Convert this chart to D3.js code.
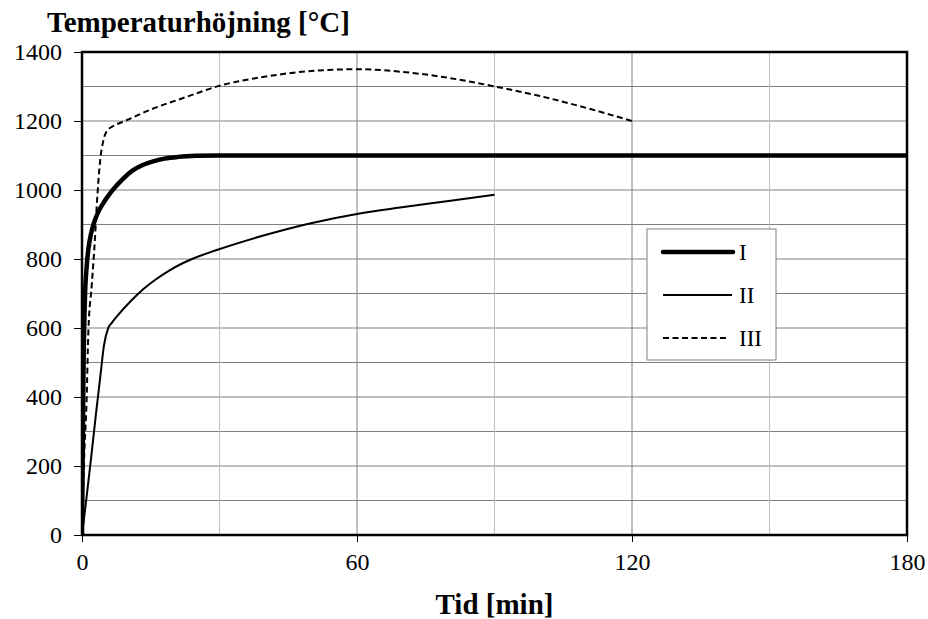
<!DOCTYPE html>
<html>
<head>
<meta charset="utf-8">
<script src="https://cdnjs.cloudflare.com/ajax/libs/d3/7.8.5/d3.min.js"></script>
<style>
  body { margin: 0; background: #fff; }
  text { font-family: "Liberation Serif", "Times New Roman", serif; }
</style>
</head>
<body>
<div id="main"></div>
<script>
// curve I (thick)
var timeI  = [0, 0.3, 0.65, 1, 1.4, 2, 2.5, 3.5, 4.65, 6, 7.5, 9, 11, 13, 15.5, 18, 21, 25, 30, 40, 60, 90, 120, 150, 180];
var tempI  = [0, 450, 690, 775, 830, 875, 900, 935, 962, 988, 1012, 1033, 1056, 1071, 1083, 1091, 1096, 1099, 1100, 1100, 1100, 1100, 1100, 1100, 1100];

// curve II (thin)
var timeII = [0, 1, 2, 3, 4, 4.8, 5.7, 6.5, 7.9, 10.5, 13.4, 16, 19.2, 24, 29.4, 38.8, 49.7, 60.6, 69.4, 80, 90];
var tempII = [0, 110, 225, 345, 460, 550, 599, 615, 638, 676, 713, 740, 768, 800, 826, 865, 903, 932, 949, 968, 986];

// curve III (dashed)
var timeIII = [0, 0.4, 1, 1.4, 2.1, 2.85, 3.2, 3.6, 4, 4.6, 5.4, 7.2, 9, 14.8, 22.8, 29.7, 40.2, 51, 60, 69.4, 80, 89.7, 100, 110, 120];
var tempIII = [0, 200, 390, 594, 720, 865, 950, 1030, 1090, 1140, 1170, 1188, 1198, 1232, 1270, 1301, 1329, 1346, 1350, 1343, 1325, 1301, 1272, 1238, 1200];

var xTicks = [0, 60, 120, 180];
var yTicks = [0, 200, 400, 600, 800, 1000, 1200, 1400];
var legendNames = ["I", "II", "III"];

drawChart();

function drawChart(){
    var W = 928, H = 619;
    var pLeft = 82, pTop = 52, pRight = 907, pBottom = 535;

    var svg = d3.select("#main").append("svg")
        .attr("width", W).attr("height", H);

    var x = d3.scaleLinear().domain([0, 180]).range([pLeft, pRight]);
    var y = d3.scaleLinear().domain([0, 1400]).range([pBottom, pTop]);

    // gridlines
    svg.append("g").selectAll("line")
        .data(d3.range(100, 1400, 100))
        .enter().append("line")
        .attr("x1", pLeft).attr("x2", pRight)
        .attr("y1", function(d){ return y(d); })
        .attr("y2", function(d){ return y(d); })
        .attr("stroke", "#808080").attr("stroke-width", 1);

    svg.append("g").selectAll("line")
        .data(d3.range(30, 180, 30))
        .enter().append("line")
        .attr("y1", pTop).attr("y2", pBottom)
        .attr("x1", function(d){ return x(d); })
        .attr("x2", function(d){ return x(d); })
        .attr("stroke", function(d){ return d % 60 == 0 ? "#808080" : "#c0c0c0"; })
        .attr("stroke-width", 1);

    // axes
    var yAxis = svg.append("g")
        .attr("transform", "translate(" + pLeft + ",0)")
        .call(d3.axisLeft(y).tickValues(yTicks).tickFormat(d3.format("d")).tickSize(8).tickPadding(12).tickSizeOuter(0));
    var xAxis = svg.append("g")
        .attr("transform", "translate(0," + pBottom + ")")
        .call(d3.axisBottom(x).tickValues(xTicks).tickFormat(d3.format("d")).tickSize(7).tickPadding(11).tickSizeOuter(0));

    [xAxis, yAxis].forEach(function(a){
        a.attr("font-family", "'Liberation Serif', serif");
        a.select(".domain").remove();
        a.selectAll("line").attr("stroke", "#000");
        a.selectAll("text").attr("fill", "#000").style("font-size", "24px")
            .style("font-family", "'Liberation Serif', serif");
    });

    // curves
    svg.append("clipPath").attr("id", "clip")
        .append("rect").attr("x", pLeft).attr("y", pTop - 5)
        .attr("width", pRight - pLeft + 3).attr("height", pBottom - pTop + 5);

    function series(ts, vs){
        return ts.map(function(t, i){ return [t, vs[i]]; });
    }
    var line = d3.line()
        .x(function(d){ return x(d[0]); })
        .y(function(d){ return y(d[1]); })
        .curve(d3.curveMonotoneX);

    var curves = [
        {data: series(timeII, tempII), w: 2, dash: null},
        {data: series(timeIII, tempIII), w: 2, dash: "6,3.5"},
        {data: series(timeI, tempI), w: 4.5, dash: null}
    ];
    var cg = svg.append("g").attr("clip-path", "url(#clip)");
    curves.forEach(function(c){
        cg.append("path")
            .attr("d", line(c.data))
            .attr("fill", "none")
            .attr("stroke", "#000")
            .attr("stroke-width", c.w)
            .attr("stroke-dasharray", c.dash);
    });

    // frame
    svg.append("rect")
        .attr("x", pLeft).attr("y", pTop)
        .attr("width", pRight - pLeft).attr("height", pBottom - pTop)
        .attr("fill", "none").attr("stroke", "#000").attr("stroke-width", 2.5);

    // legend
    var lg = svg.append("g").attr("transform", "translate(647,229)");
    lg.append("rect").attr("width", 129).attr("height", 131)
        .attr("fill", "#fff").attr("stroke", "#808080").attr("stroke-width", 1);
    var legStyles = [{w: 4.5, dash: null, x2: 86}, {w: 2, dash: null, x2: 85}, {w: 2, dash: "6,3.5", x2: 80}];
    legendNames.forEach(function(n, i){
        var yy = 23 + i * 43;
        lg.append("line").attr("x1", 16).attr("x2", legStyles[i].x2)
            .attr("y1", yy).attr("y2", yy)
            .attr("stroke", "#000").attr("stroke-width", legStyles[i].w)
            .attr("stroke-linecap", i == 0 ? "round" : "butt")
            .attr("stroke-dasharray", legStyles[i].dash);
        lg.append("text").attr("x", 92).attr("y", yy + 8)
            .style("font-size", "23px").text(n);
    });

    // titles
    svg.append("text").attr("x", 47).attr("y", 32)
        .style("font-size", "29px").style("font-weight", "bold")
        .text("Temperaturhöjning [°C]");
    svg.append("text").attr("x", (pLeft + pRight) / 2).attr("y", 614)
        .attr("text-anchor", "middle")
        .style("font-size", "29px").style("font-weight", "bold")
        .text("Tid [min]");
}
</script>
</body>
</html>
